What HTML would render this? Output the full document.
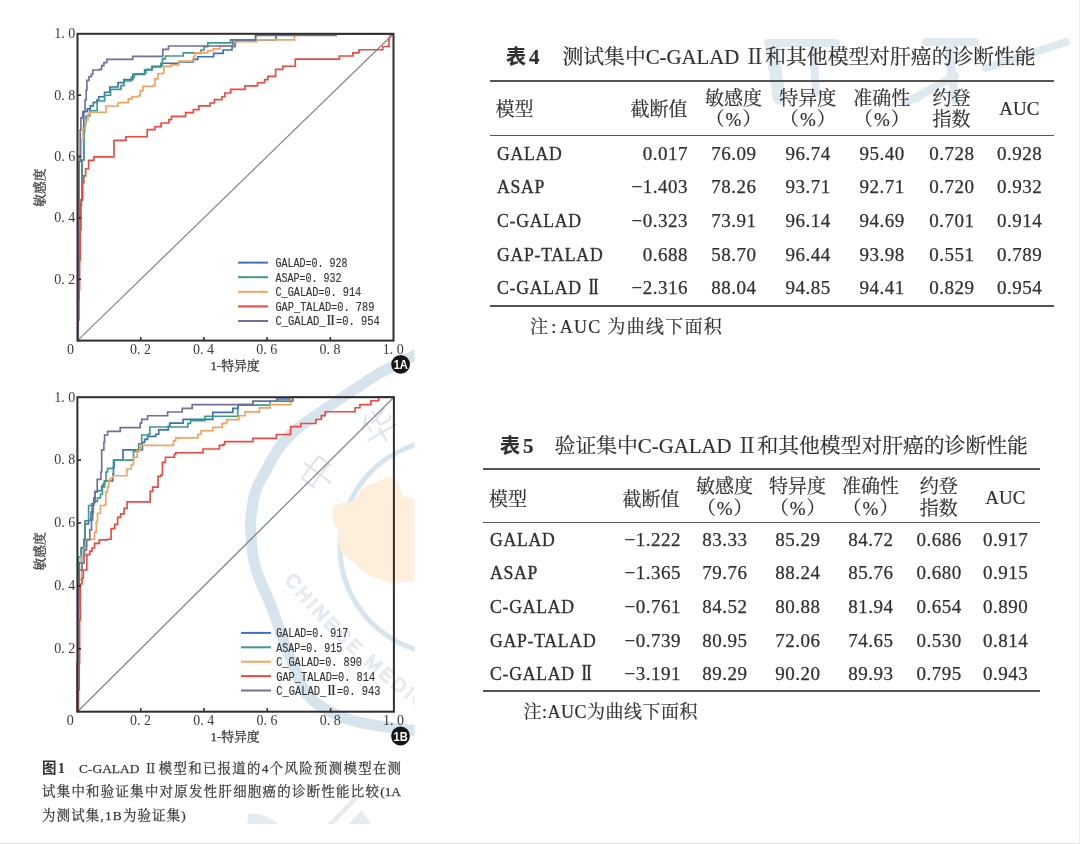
<!DOCTYPE html>
<html lang="zh"><head><meta charset="utf-8"><title>C-GALAD II</title>
<style>
html,body{margin:0;padding:0;background:#fff;}
body{width:1080px;height:844px;overflow:hidden;position:relative;color:#303030;
 font-family:"Liberation Serif","Noto Serif CJK SC",serif;}
svg{position:absolute;left:0;top:0;}
.tk{font-family:"Liberation Serif","Noto Serif CJK SC",serif;font-size:14px;fill:#3a3a3a;}
.at{font-family:"Liberation Serif","Noto Serif CJK SC",serif;font-size:12.8px;font-weight:400;fill:#333;stroke:#333;stroke-width:0.25px;}
.lg{font-family:"Liberation Mono","Noto Sans CJK SC",monospace;font-size:13px;fill:#333;stroke:#333;stroke-width:0.15px;}
.r2{font-family:"Noto Serif CJK SC",serif;font-weight:700;}
.bd{font-family:"Liberation Sans",sans-serif;font-size:12.6px;font-weight:700;fill:#fff;}
.wmc{font-family:"Noto Sans CJK SC",sans-serif;font-size:37px;font-weight:300;fill:#d9e4ed;}
.wmt{font-family:"Liberation Sans",sans-serif;font-size:19px;fill:none;stroke:#dae4ec;stroke-width:1.05;letter-spacing:3.2px;}
.a{position:absolute;white-space:nowrap;}
.t{font-size:19px;line-height:19px;-webkit-text-stroke:0.2px #333;}
.h{font-family:"Liberation Serif","Noto Serif CJK SC",serif;font-size:19px;line-height:19px;text-align:center;-webkit-text-stroke:0.2px #333;}
.rule{position:absolute;height:2px;background:#555;}
.n{letter-spacing:0.5px;text-indent:0.5px;-webkit-text-stroke:0.25px #333;}
.nm{display:inline-block;transform:scaleX(0.93);transform-origin:0 50%;letter-spacing:0.8px;-webkit-text-stroke:0.35px #333;}
.ttl{font-family:"Liberation Serif","Noto Serif CJK SC",serif;font-size:20.8px;line-height:22px;-webkit-text-stroke:0.2px #333;}
.tno{font-family:"Liberation Serif","Noto Sans CJK SC",sans-serif;font-weight:700;font-size:20px;}
.cap{font-family:"Liberation Serif","Noto Serif CJK SC",serif;font-size:13.4px;line-height:16px;color:#333;-webkit-text-stroke:0.25px #444;}
</style></head>
<body style="filter:blur(0.3px)">
<svg width="1080" height="844" viewBox="0 0 1080 844">
<defs><clipPath id="wmclip"><rect x="0" y="0" width="414.5" height="824"/></clipPath></defs>
<g clip-path="url(#wmclip)">
<path d="M430.0 348.0C427.2 349.3 421.3 351.8 413.0 356.0C404.7 360.2 389.7 367.5 380.0 373.0C370.3 378.5 362.7 384.0 355.0 389.0C347.3 394.0 340.7 398.5 334.0 403.0C327.3 407.5 321.2 411.7 315.0 416.0C308.8 420.3 302.9 423.8 297.0 429.0C291.1 434.2 284.9 439.9 279.4 447.4C273.9 454.9 268.0 466.7 264.0 474.0C260.0 481.3 257.8 483.3 255.6 491.0C253.4 498.7 251.4 511.8 250.7 520.0C250.0 528.2 251.0 533.3 251.5 540.0C252.0 546.7 252.4 553.7 253.7 560.0C254.9 566.3 256.9 572.3 259.0 578.0C261.1 583.7 263.8 589.0 266.0 594.0C268.2 599.0 269.7 601.8 272.0 608.0C274.3 614.2 277.2 623.2 280.0 631.0C282.8 638.8 286.0 647.5 289.0 655.0C292.0 662.5 295.0 669.5 298.0 676.0C301.0 682.5 302.8 688.7 307.0 694.0C311.2 699.3 316.6 703.8 323.0 707.8C329.4 711.8 337.1 715.4 345.2 718.2C353.2 721.0 360.4 722.7 371.3 724.7C382.2 726.7 400.6 729.0 410.4 730.0C420.2 731.0 426.7 730.8 430.0 731.0" fill="none" stroke="#d6e4ee" stroke-width="11" stroke-linecap="butt"/>
<circle cx="447" cy="547" r="107" fill="none" stroke="#d6e4ee" stroke-width="5"/>
<polygon points="333.3,506.3 342.7,502.5 350.3,502.5 357.9,496.8 360.7,489.2 369.2,484.5 376.8,482.6 384.4,477.9 392.0,476.9 399.5,483.6 401.4,494.9 412.8,498.7 420.0,498.7 420.0,581.1 403.3,582.0 392.0,584.0 380.6,579.2 369.2,575.4 359.8,568.8 352.2,561.2 344.6,555.5 339.9,549.8 338.0,538.5 338.9,530.9 334.2,525.2 332.3,515.8" fill="#feefdc"/>
<text x="318.5" y="486.5" class="wmc" text-anchor="middle" transform="rotate(-53 318.5 473.5)">中</text>
<text x="379.0" y="440.5" class="wmc" text-anchor="middle" transform="rotate(-30 379.0 427.5)">华</text>
<path id="arcB" d="M284 580 Q340 652 430 716" fill="none"/>
<text class="wmt"><textPath href="#arcB" startOffset="0">CHINESE MEDICAL ASSOCIATION</textPath></text>
</g>
<line x1="768" y1="43" x2="836" y2="43" stroke="#dfe9f0" stroke-width="8" stroke-linecap="round"/>
<line x1="772" y1="48" x2="779" y2="98" stroke="#dfe9f0" stroke-width="13" stroke-linecap="round"/>
<line x1="813" y1="45" x2="816" y2="92" stroke="#dfe9f0" stroke-width="8" stroke-linecap="round"/>
<line x1="926" y1="42" x2="975" y2="42" stroke="#dfe9f0" stroke-width="8" stroke-linecap="round"/>
<line x1="948" y1="44" x2="955" y2="100" stroke="#dfe9f0" stroke-width="9" stroke-linecap="round"/>
<line x1="905" y1="103" x2="955" y2="76" stroke="#dfe9f0" stroke-width="8" stroke-linecap="round"/>
<line x1="986" y1="68" x2="1066" y2="42" stroke="#dfe9f0" stroke-width="8" stroke-linecap="round"/>
<line x1="916" y1="100" x2="940" y2="84" stroke="#dfe9f0" stroke-width="6" stroke-linecap="round"/>
<g clip-path="url(#wmclip)">
<line x1="329" y1="826" x2="357" y2="797" stroke="#e4ecf2" stroke-width="4.5"/>
<polygon points="347,826 362,810 372,826" fill="#e4ecf2"/>
<path d="M247 826 L248 814 Q262 812 276 822 L276 826 Z" fill="#e4ecf2"/>
</g>
<rect x="0" y="843" width="1080" height="1" fill="#e2e2e2"/>
<rect x="1079" y="0" width="1" height="844" fill="#ececec"/>
<line x1="77.5" y1="340.6" x2="393.5" y2="33.8" stroke="#8a8a8a" stroke-width="1.3"/>
<path d="M77.5 340.6L78.0 340.6L78.0 300.0L78.8 300.0L78.8 250.0L80.0 250.0L80.0 200.0L82.0 200.0L82.0 160.0L83.8 160.0L83.8 132.0L83.8 111.3L87.4 111.3L87.4 108.9L90.4 108.9L90.4 105.9L93.3 105.9L93.3 102.4L96.9 102.4L96.9 100.0L98.7 100.0L98.7 96.7L104.6 96.7L104.6 92.2L109.8 92.2L109.8 87.0L118.0 87.0L118.0 82.6L123.9 82.6L123.9 79.6L132.8 79.6L132.8 74.4L144.6 74.4L144.6 70.0L152.0 70.0L152.0 66.3L161.0 66.3L161.0 63.2L178.7 63.2L178.7 62.0L193.3 62.0L193.3 59.4L197.8 59.4L197.8 56.7L213.6 56.7L213.6 53.3L223.1 53.3L223.1 50.0L232.0 50.0L232.0 46.7L235.0 46.7L235.0 42.2L236.0 42.2L236.0 39.8L276.0 39.8L276.0 33.8L393.5 33.8" fill="none" stroke="#3b72b6" stroke-width="1.65" stroke-linejoin="miter"/>
<path d="M77.5 340.6L78.0 340.6L78.0 300.0L78.8 300.0L78.8 250.0L80.0 250.0L80.0 200.0L82.0 200.0L82.0 160.0L83.8 160.0L83.8 132.0L84.6 132.0L84.6 124.0L86.0 124.0L86.0 116.0L89.8 116.0L89.8 110.7L97.2 110.7L97.2 101.0L104.6 101.0L104.6 95.2L110.6 95.2L110.6 89.3L121.0 89.3L121.0 85.6L124.0 85.6L124.0 81.0L131.3 81.0L131.3 77.4L134.3 77.4L134.3 73.7L144.6 73.7L144.6 73.0L146.0 73.0L146.0 69.3L152.0 69.3L152.0 67.0L161.0 67.0L161.0 65.6L162.4 65.6L162.4 58.9L165.4 58.9L165.4 56.0L183.3 56.0L183.3 52.8L201.0 52.8L201.0 50.0L204.0 50.0L204.0 46.7L207.8 46.7L207.8 42.8L230.6 42.8L230.6 39.8L255.6 39.8L255.6 33.8L393.5 33.8" fill="none" stroke="#3a9d85" stroke-width="1.65" stroke-linejoin="miter"/>
<path d="M77.5 340.6L77.8 340.6L77.8 300.0L78.2 300.0L78.2 250.0L78.6 250.0L78.6 200.0L79.1 200.0L79.1 156.9L81.0 156.9L81.0 140.0L83.0 140.0L83.0 128.0L85.5 128.0L85.5 120.0L88.0 120.0L88.0 114.0L89.5 114.0L89.5 112.2L106.0 112.2L106.0 106.0L118.0 106.0L118.0 102.6L128.3 102.6L128.3 98.9L132.0 98.9L132.0 96.7L138.0 96.7L138.0 96.0L140.2 96.0L140.2 90.7L143.0 90.7L143.0 86.3L153.5 86.3L153.5 85.6L155.0 85.6L155.0 78.9L158.0 78.9L158.0 73.7L162.4 73.7L162.4 73.0L163.9 73.0L163.9 66.3L171.3 66.3L171.3 64.8L178.7 64.8L178.7 61.1L192.7 61.1L192.7 59.4L193.6 59.4L193.6 56.7L195.0 56.7L195.0 52.8L207.8 52.8L207.8 50.6L213.3 50.6L213.3 48.9L220.0 48.9L220.0 46.0L233.3 46.0L233.3 41.7L256.7 41.7L256.7 39.8L294.4 39.8L294.4 33.8L393.5 33.8" fill="none" stroke="#f4a25c" stroke-width="1.65" stroke-linejoin="miter"/>
<path d="M77.5 340.6L78.3 340.6L78.3 320.0L79.0 320.0L79.0 290.0L79.6 290.0L79.6 260.0L80.3 260.0L80.3 230.0L81.0 230.0L81.0 205.0L81.5 205.0L81.5 200.0L82.7 200.0L82.7 183.0L83.8 183.0L83.8 175.8L85.6 175.8L85.6 168.7L88.6 168.7L88.6 160.4L93.9 160.4L93.9 158.6L93.9 156.9L111.1 156.9L114.0 156.9L114.0 140.3L125.9 140.3L125.9 136.7L147.2 136.7L147.2 129.6L155.0 129.6L155.0 126.7L161.1 126.7L161.1 123.0L168.9 123.0L168.9 119.6L171.5 119.6L171.5 116.3L185.6 116.3L185.6 112.6L193.3 112.6L193.3 109.6L198.9 109.6L198.9 105.9L210.0 105.9L210.0 103.0L214.4 103.0L214.4 99.6L221.9 99.6L221.9 96.7L224.8 96.7L224.8 93.0L230.7 93.0L230.7 89.3L245.0 89.3L245.0 85.9L257.5 85.9L257.5 82.7L264.6 82.7L264.6 79.6L267.8 79.6L267.8 76.4L275.6 76.4L275.6 69.4L282.7 69.4L282.7 66.2L295.3 66.2L295.3 59.1L339.4 59.1L339.4 56.0L352.8 56.0L352.8 52.8L359.0 52.8L359.0 49.7L382.7 49.7L382.7 46.5L389.0 46.5L389.0 39.4L390.5 35.5L393.5 33.8" fill="none" stroke="#f2473d" stroke-width="1.65" stroke-linejoin="miter"/>
<path d="M77.5 340.6L78.0 340.6L78.0 280.0L78.6 280.0L78.6 220.0L79.1 220.0L79.1 161.6L80.2 161.6L80.2 130.0L80.9 130.0L80.9 117.8L82.7 117.8L82.7 111.8L85.0 111.8L85.0 100.0L86.2 100.0L86.2 90.0L86.9 90.0L86.9 80.4L89.0 80.4L89.0 76.7L91.3 76.7L91.3 74.4L92.8 74.4L92.8 70.0L99.4 70.0L99.4 69.3L101.7 69.3L101.7 65.6L103.9 65.6L103.9 62.6L106.9 62.6L106.9 59.4L132.8 59.4L132.8 56.4L162.8 56.4L162.8 49.3L168.5 49.3L168.5 46.0L232.5 46.0L232.5 39.8L255.6 39.8L255.6 35.4L336.0 35.4L336.0 33.8L393.5 33.8" fill="none" stroke="#726e9e" stroke-width="1.65" stroke-linejoin="miter"/>
<rect x="77.5" y="33.8" width="316.0" height="306.8" fill="none" stroke="#2e2e2e" stroke-width="2"/>
<line x1="140.7" y1="340.6" x2="140.7" y2="337.0" stroke="#2e2e2e" stroke-width="1.6"/>
<line x1="77.5" y1="279.2" x2="81.1" y2="279.2" stroke="#2e2e2e" stroke-width="1.6"/>
<line x1="203.9" y1="340.6" x2="203.9" y2="337.0" stroke="#2e2e2e" stroke-width="1.6"/>
<line x1="77.5" y1="217.9" x2="81.1" y2="217.9" stroke="#2e2e2e" stroke-width="1.6"/>
<line x1="267.1" y1="340.6" x2="267.1" y2="337.0" stroke="#2e2e2e" stroke-width="1.6"/>
<line x1="77.5" y1="156.5" x2="81.1" y2="156.5" stroke="#2e2e2e" stroke-width="1.6"/>
<line x1="330.3" y1="340.6" x2="330.3" y2="337.0" stroke="#2e2e2e" stroke-width="1.6"/>
<line x1="77.5" y1="95.2" x2="81.1" y2="95.2" stroke="#2e2e2e" stroke-width="1.6"/>
<text x="140.4" y="354.1" text-anchor="middle" textLength="21" lengthAdjust="spacing" class="tk">0. 2</text>
<text x="75.3" y="283.5" text-anchor="end" textLength="21" lengthAdjust="spacing" class="tk">0. 2</text>
<text x="203.6" y="354.1" text-anchor="middle" textLength="21" lengthAdjust="spacing" class="tk">0. 4</text>
<text x="75.3" y="222.2" text-anchor="end" textLength="21" lengthAdjust="spacing" class="tk">0. 4</text>
<text x="266.8" y="354.1" text-anchor="middle" textLength="21" lengthAdjust="spacing" class="tk">0. 6</text>
<text x="75.3" y="160.8" text-anchor="end" textLength="21" lengthAdjust="spacing" class="tk">0. 6</text>
<text x="330.0" y="354.1" text-anchor="middle" textLength="21" lengthAdjust="spacing" class="tk">0. 8</text>
<text x="75.3" y="99.5" text-anchor="end" textLength="21" lengthAdjust="spacing" class="tk">0. 8</text>
<text x="393.2" y="354.1" text-anchor="middle" textLength="21" lengthAdjust="spacing" class="tk">1. 0</text>
<text x="75.3" y="38.1" text-anchor="end" textLength="21" lengthAdjust="spacing" class="tk">1. 0</text>
<text x="73.9" y="354.1" text-anchor="end" class="tk">0</text>
<text x="235.0" y="370.1" class="at" text-anchor="middle">1-特异度</text>
<text class="at" text-anchor="middle" transform="translate(43.6 187.6) rotate(-90)">敏感度</text>
<line x1="238.0" y1="262.6" x2="268.0" y2="262.6" stroke="#3b72b6" stroke-width="2"/>
<text x="275.4" y="267.0" class="lg" textLength="72.0" lengthAdjust="spacingAndGlyphs">GALAD=0. 928</text>
<line x1="238.0" y1="277.2" x2="268.0" y2="277.2" stroke="#3a9d85" stroke-width="2"/>
<text x="275.4" y="281.6" class="lg" textLength="66.0" lengthAdjust="spacingAndGlyphs">ASAP=0. 932</text>
<line x1="238.0" y1="291.8" x2="268.0" y2="291.8" stroke="#f4a25c" stroke-width="2"/>
<text x="275.4" y="296.2" class="lg" textLength="85.8" lengthAdjust="spacingAndGlyphs">C_GALAD=0. 914</text>
<line x1="238.0" y1="306.4" x2="268.0" y2="306.4" stroke="#f2473d" stroke-width="2"/>
<text x="275.4" y="310.8" class="lg" textLength="99.0" lengthAdjust="spacingAndGlyphs">GAP_TALAD=0. 789</text>
<line x1="238.0" y1="321.0" x2="268.0" y2="321.0" stroke="#726e9e" stroke-width="2"/>
<text x="275.4" y="325.4" class="lg" textLength="104.4" lengthAdjust="spacingAndGlyphs">C_GALAD_<tspan class="r2">Ⅱ</tspan>=0. 954</text>
<circle cx="400.6" cy="364.4" r="9.4" fill="#161616"/>
<text x="400.8" y="368.9" class="bd" text-anchor="middle" textLength="14.2" lengthAdjust="spacingAndGlyphs">1A</text>
<line x1="77.4" y1="711.7" x2="393.9" y2="397.2" stroke="#8a8a8a" stroke-width="1.3"/>
<path d="M77.4 711.7L77.4 663.0L78.0 663.0L78.0 610.0L78.6 610.0L78.6 580.0L79.1 580.0L79.1 562.9L81.5 562.9L81.5 547.5L84.4 547.5L84.4 539.2L85.0 539.2L85.0 523.8L88.6 523.8L88.6 520.3L91.0 520.3L91.0 512.0L92.1 512.0L92.1 504.9L93.9 504.9L93.9 497.8L95.1 497.8L95.1 491.8L97.5 491.8L97.5 490.7L101.7 490.7L101.7 486.0L103.4 486.0L103.4 483.6L104.6 483.6L104.6 480.9L112.8 480.9L112.8 474.2L113.5 474.2L113.5 460.0L123.0 460.0L123.0 449.8L141.7 449.8L142.4 449.8L142.4 442.4L144.6 442.4L144.6 439.4L147.6 439.4L147.6 436.4L155.7 436.4L155.7 434.2L158.7 434.2L158.7 429.8L168.3 429.8L168.3 426.1L169.8 426.1L169.8 423.1L183.1 423.1L183.1 419.4L212.8 419.4L212.8 412.3L232.8 412.3L232.8 408.4L238.3 408.4L238.3 404.6L252.8 404.6L252.8 401.2L276.7 401.2L276.7 399.0L290.0 399.0L290.0 397.2L393.9 397.2" fill="none" stroke="#3b72b6" stroke-width="1.65" stroke-linejoin="miter"/>
<path d="M77.4 711.7L77.4 663.0L78.0 663.0L78.0 600.0L78.5 600.0L78.5 557.0L81.0 557.0L81.0 548.0L83.8 548.0L83.8 539.2L85.0 539.2L85.0 520.9L88.6 520.9L88.6 515.5L88.6 505.5L91.5 505.5L91.5 503.7L93.9 503.7L93.9 501.3L97.5 501.3L97.5 497.8L100.4 497.8L100.4 494.2L102.4 494.2L102.4 487.0L104.6 487.0L104.6 480.9L106.0 480.9L106.0 472.0L107.6 472.0L107.6 468.3L112.8 468.3L112.8 467.6L114.3 467.6L114.3 460.1L132.8 460.1L133.5 460.1L133.5 451.3L138.7 451.3L138.7 443.9L141.7 443.9L141.7 435.0L148.3 435.0L148.3 434.2L149.8 434.2L149.8 427.0L187.8 427.0L187.8 423.4L190.6 423.4L190.6 420.7L204.4 420.7L205.0 420.7L205.0 416.2L237.2 416.2L237.8 416.2L237.8 405.1L269.4 405.1L270.0 405.1L270.0 401.2L292.5 401.2L292.5 397.2L393.9 397.2" fill="none" stroke="#3a9d85" stroke-width="1.65" stroke-linejoin="miter"/>
<path d="M77.4 711.7L77.4 663.0L78.2 663.0L78.2 600.0L79.1 600.0L79.1 580.0L81.5 580.0L81.5 555.8L85.0 555.8L85.0 546.4L86.8 546.4L86.8 539.2L93.9 539.2L94.5 539.2L94.5 532.1L96.3 532.1L96.3 521.5L97.5 521.5L97.5 513.2L100.4 513.2L100.4 505.5L104.6 505.5L104.6 504.9L105.8 504.9L105.8 491.8L107.5 491.8L107.5 487.1L108.7 487.1L108.7 480.0L110.6 480.0L110.6 478.0L112.8 478.0L112.8 475.7L125.4 475.7L126.9 475.7L126.9 469.0L131.3 469.0L131.3 464.6L133.5 464.6L133.5 457.2L137.2 457.2L137.2 450.5L140.2 450.5L140.2 445.3L172.0 445.3L173.5 445.3L173.5 440.9L175.7 440.9L175.7 437.9L196.5 437.9L198.0 437.9L198.0 434.2L200.0 434.2L200.0 434.0L201.1 434.0L201.1 430.7L212.2 430.7L212.8 430.7L212.8 427.3L221.7 427.3L222.2 427.3L222.2 423.4L226.2 423.4L226.7 423.4L226.7 419.6L238.3 419.6L238.9 419.6L238.9 415.7L244.5 415.7L245.0 415.7L245.0 411.8L258.9 411.8L259.4 411.8L259.4 407.9L269.4 407.9L270.0 407.9L270.0 404.6L290.0 404.6L290.6 404.6L290.6 397.2L393.9 397.2" fill="none" stroke="#f4a25c" stroke-width="1.65" stroke-linejoin="miter"/>
<path d="M77.4 711.7L78.5 711.7L78.5 690.0L79.2 690.0L79.2 663.0L79.6 663.0L79.6 620.0L80.3 620.0L80.3 584.0L82.0 584.0L82.0 578.0L83.3 578.0L83.3 570.0L86.8 570.0L86.8 567.7L86.8 554.6L89.8 554.6L89.8 551.1L92.0 551.1L92.0 548.0L94.5 548.0L94.5 543.4L99.3 543.4L99.3 539.8L107.5 539.8L107.5 539.2L111.1 539.2L111.1 528.6L114.7 528.6L114.7 524.4L117.6 524.4L117.6 517.3L120.6 517.3L120.6 513.8L124.1 513.8L124.1 508.4L127.1 508.4L127.1 501.9L150.2 501.9L150.2 491.3L152.6 491.3L152.6 487.1L157.9 487.1L158.0 487.1L158.0 476.4L160.9 476.4L160.9 475.0L162.4 475.0L162.4 462.4L165.4 462.4L165.4 457.2L174.3 457.2L174.3 454.2L175.7 454.2L175.7 452.7L202.4 452.7L203.1 452.7L203.1 449.0L218.7 449.0L219.4 449.0L219.4 445.3L223.1 445.3L223.1 444.6L224.6 444.6L224.6 441.6L252.0 441.6L252.8 441.6L252.8 438.4L275.6 438.4L276.4 438.4L276.4 434.5L289.8 434.5L290.6 434.5L290.6 426.6L300.0 426.6L300.8 426.6L300.8 423.5L315.0 423.5L315.8 423.5L315.8 419.5L320.5 419.5L321.3 419.5L321.3 415.6L324.5 415.6L325.2 415.6L325.2 411.7L354.4 411.7L355.1 411.7L355.1 407.7L359.2 407.7L359.9 407.7L359.9 404.6L370.2 404.6L370.9 404.6L370.9 400.7L378.0 400.7L378.7 400.7L378.7 397.2L393.9 397.2" fill="none" stroke="#f2473d" stroke-width="1.65" stroke-linejoin="miter"/>
<path d="M77.4 711.7L77.4 663.0L78.0 663.0L78.0 620.0L78.6 620.0L78.6 590.0L79.1 590.0L79.1 570.0L82.1 570.0L82.1 562.9L84.0 562.9L84.0 550.0L86.5 550.0L86.5 540.0L89.8 540.0L89.8 529.8L91.5 529.8L91.5 520.0L92.7 520.0L92.7 513.2L93.3 513.2L93.3 502.5L95.1 502.5L95.1 491.3L97.2 491.3L97.2 479.4L100.9 479.4L100.9 472.0L101.7 472.0L101.7 449.8L103.9 449.8L103.9 442.4L104.6 442.4L104.6 435.0L107.6 435.0L107.6 431.3L120.2 431.3L120.2 427.6L140.2 427.6L140.2 423.1L141.7 423.1L141.7 419.4L147.6 419.4L147.6 415.7L167.6 415.7L167.6 412.0L182.2 412.0L182.2 408.4L192.2 408.4L192.2 404.6L252.8 404.6L252.8 401.2L292.8 401.2L292.8 397.2L393.9 397.2" fill="none" stroke="#726e9e" stroke-width="1.65" stroke-linejoin="miter"/>
<rect x="77.4" y="397.2" width="316.5" height="314.5" fill="none" stroke="#2e2e2e" stroke-width="2"/>
<line x1="140.7" y1="711.7" x2="140.7" y2="708.1" stroke="#2e2e2e" stroke-width="1.6"/>
<line x1="77.4" y1="648.8" x2="81.0" y2="648.8" stroke="#2e2e2e" stroke-width="1.6"/>
<line x1="204.0" y1="711.7" x2="204.0" y2="708.1" stroke="#2e2e2e" stroke-width="1.6"/>
<line x1="77.4" y1="585.9" x2="81.0" y2="585.9" stroke="#2e2e2e" stroke-width="1.6"/>
<line x1="267.3" y1="711.7" x2="267.3" y2="708.1" stroke="#2e2e2e" stroke-width="1.6"/>
<line x1="77.4" y1="523.0" x2="81.0" y2="523.0" stroke="#2e2e2e" stroke-width="1.6"/>
<line x1="330.6" y1="711.7" x2="330.6" y2="708.1" stroke="#2e2e2e" stroke-width="1.6"/>
<line x1="77.4" y1="460.1" x2="81.0" y2="460.1" stroke="#2e2e2e" stroke-width="1.6"/>
<text x="140.4" y="725.2" text-anchor="middle" textLength="21" lengthAdjust="spacing" class="tk">0. 2</text>
<text x="75.2" y="653.1" text-anchor="end" textLength="21" lengthAdjust="spacing" class="tk">0. 2</text>
<text x="203.7" y="725.2" text-anchor="middle" textLength="21" lengthAdjust="spacing" class="tk">0. 4</text>
<text x="75.2" y="590.2" text-anchor="end" textLength="21" lengthAdjust="spacing" class="tk">0. 4</text>
<text x="267.0" y="725.2" text-anchor="middle" textLength="21" lengthAdjust="spacing" class="tk">0. 6</text>
<text x="75.2" y="527.3" text-anchor="end" textLength="21" lengthAdjust="spacing" class="tk">0. 6</text>
<text x="330.3" y="725.2" text-anchor="middle" textLength="21" lengthAdjust="spacing" class="tk">0. 8</text>
<text x="75.2" y="464.4" text-anchor="end" textLength="21" lengthAdjust="spacing" class="tk">0. 8</text>
<text x="393.6" y="725.2" text-anchor="middle" textLength="21" lengthAdjust="spacing" class="tk">1. 0</text>
<text x="75.2" y="401.5" text-anchor="end" textLength="21" lengthAdjust="spacing" class="tk">1. 0</text>
<text x="73.8" y="725.2" text-anchor="end" class="tk">0</text>
<text x="235.1" y="741.2" class="at" text-anchor="middle">1-特异度</text>
<text class="at" text-anchor="middle" transform="translate(43.6 551.3) rotate(-90)">敏感度</text>
<line x1="241.0" y1="632.9" x2="271.0" y2="632.9" stroke="#3b72b6" stroke-width="2"/>
<text x="276.2" y="637.3" class="lg" textLength="72.0" lengthAdjust="spacingAndGlyphs">GALAD=0. 917</text>
<line x1="241.0" y1="647.3" x2="271.0" y2="647.3" stroke="#3a9d85" stroke-width="2"/>
<text x="276.2" y="651.7" class="lg" textLength="66.0" lengthAdjust="spacingAndGlyphs">ASAP=0. 915</text>
<line x1="241.0" y1="661.7" x2="271.0" y2="661.7" stroke="#f4a25c" stroke-width="2"/>
<text x="276.2" y="666.1" class="lg" textLength="85.8" lengthAdjust="spacingAndGlyphs">C_GALAD=0. 890</text>
<line x1="241.0" y1="676.1" x2="271.0" y2="676.1" stroke="#f2473d" stroke-width="2"/>
<text x="276.2" y="680.5" class="lg" textLength="99.0" lengthAdjust="spacingAndGlyphs">GAP_TALAD=0. 814</text>
<line x1="241.0" y1="690.5" x2="271.0" y2="690.5" stroke="#726e9e" stroke-width="2"/>
<text x="276.2" y="694.9" class="lg" textLength="104.4" lengthAdjust="spacingAndGlyphs">C_GALAD_<tspan class="r2">Ⅱ</tspan>=0. 943</text>
<circle cx="400.5" cy="736.0" r="9.4" fill="#161616"/>
<text x="400.7" y="740.5" class="bd" text-anchor="middle" textLength="14.2" lengthAdjust="spacingAndGlyphs">1B</text>
</svg>
<div class="a ttl" style="left:506.0px;top:45.5px"><span class="tno">表<span style="margin-left:3px;font-size:21px">4</span></span></div>
<div class="a ttl" style="left:562.5px;top:45.5px">测试集中C-GALAD Ⅱ和其他模型对肝癌的诊断性能</div>
<div class="rule" style="left:489.7px;top:80.4px;width:564.6px;height:2.0px"></div>
<div class="rule" style="left:489.7px;top:134.6px;width:564.6px;height:1.6px"></div>
<div class="rule" style="left:489.7px;top:304.5px;width:564.6px;height:2.0px"></div>
<div class="a t" style="left:495.4px;top:100.0px">模型</div>
<div class="a h" style="left:619.0px;top:100.0px;width:80px">截断值</div>
<div class="a h" style="left:693.5px;top:88.7px;width:80px">敏感度</div>
<div class="a h" style="left:693.5px;top:110.2px;width:80px">（<span style="margin:0 1px">%</span>）</div>
<div class="a h" style="left:767.8px;top:88.7px;width:80px">特异度</div>
<div class="a h" style="left:767.8px;top:110.2px;width:80px">（<span style="margin:0 1px">%</span>）</div>
<div class="a h" style="left:841.8px;top:88.7px;width:80px">准确性</div>
<div class="a h" style="left:841.8px;top:110.2px;width:80px">（<span style="margin:0 1px">%</span>）</div>
<div class="a h" style="left:911.5px;top:88.7px;width:80px">约登</div>
<div class="a h" style="left:911.5px;top:110.2px;width:80px">指数</div>
<div class="a h" style="left:979.3px;top:98.5px;width:80px">AUC</div>
<div class="a t" style="left:496.7px;top:143.6px"><span class="nm">GALAD</span></div>
<div class="a h n" style="left:588.0px;top:143.6px;width:100px;text-align:right">0.017</div>
<div class="a h n" style="left:693.5px;top:143.6px;width:80px">76.09</div>
<div class="a h n" style="left:767.8px;top:143.6px;width:80px">96.74</div>
<div class="a h n" style="left:841.8px;top:143.6px;width:80px">95.40</div>
<div class="a h n" style="left:911.5px;top:143.6px;width:80px">0.728</div>
<div class="a h n" style="left:979.3px;top:143.6px;width:80px">0.928</div>
<div class="a t" style="left:496.7px;top:177.2px"><span class="nm">ASAP</span></div>
<div class="a h n" style="left:588.0px;top:177.2px;width:100px;text-align:right">−1.403</div>
<div class="a h n" style="left:693.5px;top:177.2px;width:80px">78.26</div>
<div class="a h n" style="left:767.8px;top:177.2px;width:80px">93.71</div>
<div class="a h n" style="left:841.8px;top:177.2px;width:80px">92.71</div>
<div class="a h n" style="left:911.5px;top:177.2px;width:80px">0.720</div>
<div class="a h n" style="left:979.3px;top:177.2px;width:80px">0.932</div>
<div class="a t" style="left:496.7px;top:211.0px"><span class="nm">C-GALAD</span></div>
<div class="a h n" style="left:588.0px;top:211.0px;width:100px;text-align:right">−0.323</div>
<div class="a h n" style="left:693.5px;top:211.0px;width:80px">73.91</div>
<div class="a h n" style="left:767.8px;top:211.0px;width:80px">96.14</div>
<div class="a h n" style="left:841.8px;top:211.0px;width:80px">94.69</div>
<div class="a h n" style="left:911.5px;top:211.0px;width:80px">0.701</div>
<div class="a h n" style="left:979.3px;top:211.0px;width:80px">0.914</div>
<div class="a t" style="left:496.7px;top:244.8px"><span class="nm">GAP-TALAD</span></div>
<div class="a h n" style="left:588.0px;top:244.8px;width:100px;text-align:right">0.688</div>
<div class="a h n" style="left:693.5px;top:244.8px;width:80px">58.70</div>
<div class="a h n" style="left:767.8px;top:244.8px;width:80px">96.44</div>
<div class="a h n" style="left:841.8px;top:244.8px;width:80px">93.98</div>
<div class="a h n" style="left:911.5px;top:244.8px;width:80px">0.551</div>
<div class="a h n" style="left:979.3px;top:244.8px;width:80px">0.789</div>
<div class="a t" style="left:496.7px;top:278.4px"><span class="nm">C-GALAD <b style="font-weight:700;display:inline-block;transform:scaleX(0.72);transform-origin:0 50%">Ⅱ</b></span></div>
<div class="a h n" style="left:588.0px;top:278.4px;width:100px;text-align:right">−2.316</div>
<div class="a h n" style="left:693.5px;top:278.4px;width:80px">88.04</div>
<div class="a h n" style="left:767.8px;top:278.4px;width:80px">94.85</div>
<div class="a h n" style="left:841.8px;top:278.4px;width:80px">94.41</div>
<div class="a h n" style="left:911.5px;top:278.4px;width:80px">0.829</div>
<div class="a h n" style="left:979.3px;top:278.4px;width:80px">0.954</div>
<div class="a t" style="left:530.0px;top:317.8px;font-size:18px;letter-spacing:1.3px">注<span style="margin:0 2px">:</span>AUC 为曲线下面积</div>
<div class="a ttl" style="left:500.0px;top:434.5px"><span class="tno">表<span style="margin-left:3px;font-size:21px">5</span></span></div>
<div class="a ttl" style="left:554.7px;top:434.5px">验证集中C-GALAD Ⅱ和其他模型对肝癌的诊断性能</div>
<div class="rule" style="left:483.3px;top:468.4px;width:556.4px;height:2.0px"></div>
<div class="rule" style="left:483.3px;top:521.6px;width:556.4px;height:1.6px"></div>
<div class="rule" style="left:483.3px;top:689.5px;width:556.4px;height:2.0px"></div>
<div class="a t" style="left:489.0px;top:489.5px">模型</div>
<div class="a h" style="left:611.0px;top:489.5px;width:80px">截断值</div>
<div class="a h" style="left:684.6px;top:476.7px;width:80px">敏感度</div>
<div class="a h" style="left:684.6px;top:498.9px;width:80px">（<span style="margin:0 1px">%</span>）</div>
<div class="a h" style="left:757.6px;top:476.7px;width:80px">特异度</div>
<div class="a h" style="left:757.6px;top:498.9px;width:80px">（<span style="margin:0 1px">%</span>）</div>
<div class="a h" style="left:830.5px;top:476.7px;width:80px">准确性</div>
<div class="a h" style="left:830.5px;top:498.9px;width:80px">（<span style="margin:0 1px">%</span>）</div>
<div class="a h" style="left:898.8px;top:476.7px;width:80px">约登</div>
<div class="a h" style="left:898.8px;top:498.9px;width:80px">指数</div>
<div class="a h" style="left:965.3px;top:488.0px;width:80px">AUC</div>
<div class="a t" style="left:490.3px;top:529.8px"><span class="nm">GALAD</span></div>
<div class="a h n" style="left:581.0px;top:529.8px;width:100px;text-align:right">−1.222</div>
<div class="a h n" style="left:684.6px;top:529.8px;width:80px">83.33</div>
<div class="a h n" style="left:757.6px;top:529.8px;width:80px">85.29</div>
<div class="a h n" style="left:830.5px;top:529.8px;width:80px">84.72</div>
<div class="a h n" style="left:898.8px;top:529.8px;width:80px">0.686</div>
<div class="a h n" style="left:965.3px;top:529.8px;width:80px">0.917</div>
<div class="a t" style="left:490.3px;top:563.3px"><span class="nm">ASAP</span></div>
<div class="a h n" style="left:581.0px;top:563.3px;width:100px;text-align:right">−1.365</div>
<div class="a h n" style="left:684.6px;top:563.3px;width:80px">79.76</div>
<div class="a h n" style="left:757.6px;top:563.3px;width:80px">88.24</div>
<div class="a h n" style="left:830.5px;top:563.3px;width:80px">85.76</div>
<div class="a h n" style="left:898.8px;top:563.3px;width:80px">0.680</div>
<div class="a h n" style="left:965.3px;top:563.3px;width:80px">0.915</div>
<div class="a t" style="left:490.3px;top:596.8px"><span class="nm">C-GALAD</span></div>
<div class="a h n" style="left:581.0px;top:596.8px;width:100px;text-align:right">−0.761</div>
<div class="a h n" style="left:684.6px;top:596.8px;width:80px">84.52</div>
<div class="a h n" style="left:757.6px;top:596.8px;width:80px">80.88</div>
<div class="a h n" style="left:830.5px;top:596.8px;width:80px">81.94</div>
<div class="a h n" style="left:898.8px;top:596.8px;width:80px">0.654</div>
<div class="a h n" style="left:965.3px;top:596.8px;width:80px">0.890</div>
<div class="a t" style="left:490.3px;top:630.6px"><span class="nm">GAP-TALAD</span></div>
<div class="a h n" style="left:581.0px;top:630.6px;width:100px;text-align:right">−0.739</div>
<div class="a h n" style="left:684.6px;top:630.6px;width:80px">80.95</div>
<div class="a h n" style="left:757.6px;top:630.6px;width:80px">72.06</div>
<div class="a h n" style="left:830.5px;top:630.6px;width:80px">74.65</div>
<div class="a h n" style="left:898.8px;top:630.6px;width:80px">0.530</div>
<div class="a h n" style="left:965.3px;top:630.6px;width:80px">0.814</div>
<div class="a t" style="left:490.3px;top:664.2px"><span class="nm">C-GALAD <b style="font-weight:700;display:inline-block;transform:scaleX(0.72);transform-origin:0 50%">Ⅱ</b></span></div>
<div class="a h n" style="left:581.0px;top:664.2px;width:100px;text-align:right">−3.191</div>
<div class="a h n" style="left:684.6px;top:664.2px;width:80px">89.29</div>
<div class="a h n" style="left:757.6px;top:664.2px;width:80px">90.20</div>
<div class="a h n" style="left:830.5px;top:664.2px;width:80px">89.93</div>
<div class="a h n" style="left:898.8px;top:664.2px;width:80px">0.795</div>
<div class="a h n" style="left:965.3px;top:664.2px;width:80px">0.943</div>
<div class="a t" style="left:523.6px;top:703.1px;font-size:18px;letter-spacing:0.5px">注:AUC为曲线下面积</div>
<div class="a cap" style="left:42px;top:759.5px;width:359px;text-align:justify;text-align-last:justify"><b style="font-family:'Liberation Serif','Noto Sans CJK SC',sans-serif;font-weight:700;-webkit-text-stroke:0"><span style="font-size:14.5px">图1</span></b><span style="display:inline-block;width:14px"></span>C-GALAD Ⅱ模型和已报道的4个风险预测模型在测</div>
<div class="a cap" style="left:42px;top:783.5px;width:359px;text-align:justify;text-align-last:justify">试集中和验证集中对原发性肝细胞癌的诊断性能比较(1A</div>
<div class="a cap" style="left:42px;top:808px;letter-spacing:1.2px">为测试集,1B为验证集)</div>
</body></html>
